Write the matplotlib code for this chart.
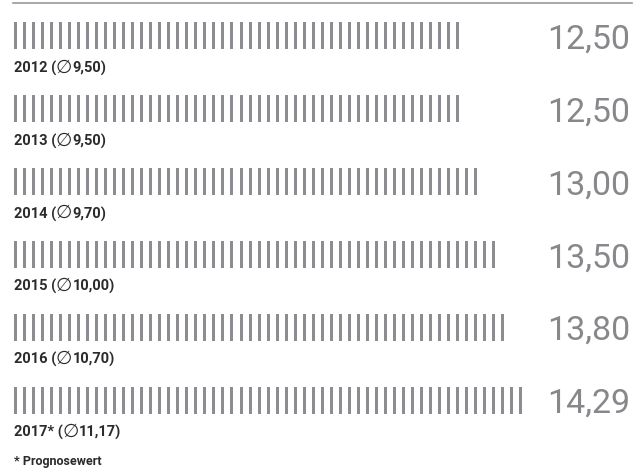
import matplotlib
matplotlib.use("Agg")
import matplotlib.pyplot as plt

years = ["2012", "2013", "2014", "2015", "2016", "2017*"]
values = [12.50, 12.50, 13.00, 13.50, 13.80, 14.29]
averages = [9.50, 9.50, 9.70, 10.00, 10.70, 11.17]
footnote = "* Prognosewert"
avg_symbol = "\u2205"

def fmt(v):
    return f"{v:.2f}".replace(".", ",")

fig = plt.figure(figsize=(6.4, 4.73), dpi=100)
ax = fig.add_axes([0, 0, 1, 1])
ax.set_axis_off()

px_per_unit = 36.08
row_px = 72.9
top_row_px = 35.5
ax.set_xlim(-14 / px_per_unit, (640 - 14) / px_per_unit)
ax.set_ylim((473 - top_row_px) / row_px, -top_row_px / row_px)

stripe_step = 0.25
stripe_w = 3 / px_per_unit
stripe_h = 27 / row_px
stripe_color = "#8d8d91"
value_color = "#88888c"
label_color = "#2b2b2b"
label_font = ["Roboto", "DejaVu Sans"]

for row, (yr, v, a) in enumerate(zip(years, values, averages)):
    n = int(round(v / stripe_step))
    xs = [i * stripe_step + stripe_w / 2 for i in range(n)]
    ax.bar(xs, [stripe_h] * n, width=stripe_w, bottom=row - stripe_h / 2,
           color=stripe_color, linewidth=0)
    ax.text(0.985, row + 13 / row_px, fmt(v), transform=ax.get_yaxis_transform(),
            ha="right", va="baseline", fontsize=24.5, color=value_color,
            family=["Roboto", "DejaVu Sans"])
    yb = row + 37 / row_px
    t1 = ax.text(0, yb, f"{yr} (", ha="left", va="baseline",
                 fontsize=10.5, fontweight="bold", color=label_color, family=label_font)
    t2 = ax.annotate(avg_symbol, xy=(1, yb), xycoords=(t1, "data"),
                     xytext=(-0.3, 0), textcoords="offset points",
                     ha="left", va="baseline", fontsize=13.5, fontweight="normal",
                     color=label_color, family=["DejaVu Sans"])
    ax.annotate(f"{fmt(a)})", xy=(1, yb), xycoords=(t2, "data"),
                xytext=(0.2, 0), textcoords="offset points",
                ha="left", va="baseline", fontsize=10.5, fontweight="bold",
                color=label_color, family=label_font)

ax.text(0, (465 - top_row_px) / row_px, footnote, ha="left", va="baseline",
        fontsize=9, fontweight="bold", color=label_color, family=label_font)

ax.axhline((3 - top_row_px) / row_px, xmin=13 / 640, xmax=632 / 640,
           color="#9a9a9a", linewidth=1.2)

fig.savefig("out.png", dpi=100)
